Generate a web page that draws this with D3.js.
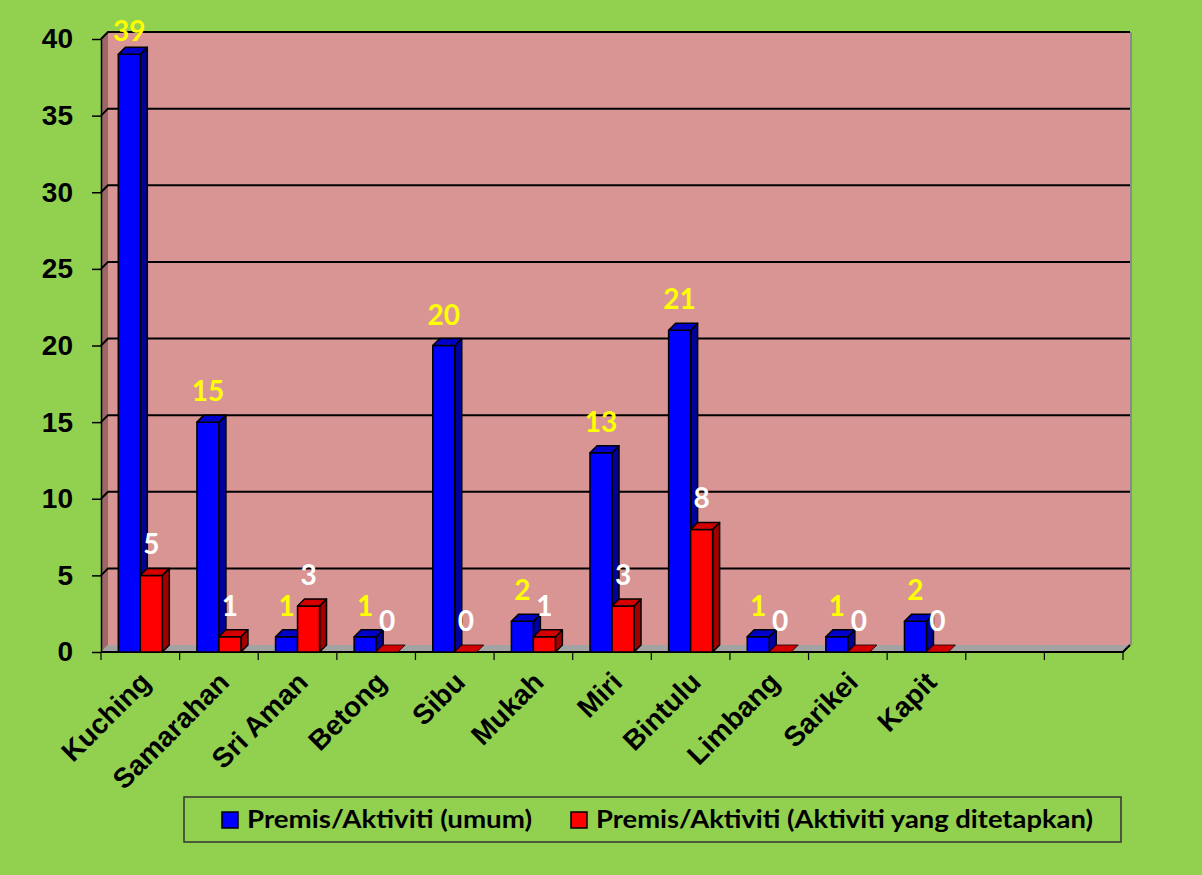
<!DOCTYPE html>
<html>
<head>
<meta charset="utf-8">
<script src="https://cdn.jsdelivr.net/npm/d3@7"></script>
<style>
  body { margin: 0; background: #92d050; }
  svg { display: block; }
</style>
</head>
<body>
<div id="chart"></div>
<script>
// Data
const categories = ["Kuching", "Samarahan", "Sri Aman", "Betong", "Sibu", "Mukah", "Miri", "Bintulu", "Limbang", "Sarikei", "Kapit", "", ""];
const umum = [39, 15, 1, 1, 20, 2, 13, 21, 1, 1, 2, null, null];
const ditetapkan = [5, 1, 3, 0, 0, 1, 3, 8, 0, 0, 0, null, null];
const seriesNames = ["Premis/Aktiviti (umum)", "Premis/Aktiviti (Aktiviti yang ditetapkan)"];
const yTicks = [0, 5, 10, 15, 20, 25, 30, 35, 40];

const width = 1202, height = 875;
const marginLeft = 101, marginRight = 79, marginTop = 39, marginBottom = 223;
const depth = 7; // 3d offset
const barW = 22;

const series = [
  {key: "umum", values: umum, front: "#0000ff", top: "#0000c8", side: "#00009a", label: "#ffff00"},
  {key: "dit", values: ditetapkan, front: "#ff0000", top: "#d40000", side: "#a00000", label: "#ffffff"}
];

const svg = d3.select("#chart").append("svg")
    .attr("width", width)
    .attr("height", height);

svg.append("rect").attr("width", width).attr("height", height).attr("fill", "#92d050");

const x0 = d3.scaleBand(d3.range(categories.length), [marginLeft, width - marginRight]).padding(0);
const x1 = d3.scaleBand(series.map(s => s.key), [0, barW * 2]).padding(0);
const y = d3.scaleLinear([0, 40], [height - marginBottom, marginTop]);

const x0L = marginLeft, x0R = width - marginRight, yB = y(0), yT = y(40);

// walls
svg.append("polygon") // back wall
    .attr("points", [[x0L + depth, yB - depth], [x0R + depth, yB - depth], [x0R + depth, yT - depth], [x0L + depth, yT - depth]].join(" "))
    .attr("fill", "#d99594");
svg.append("line")
    .attr("x1", x0R + depth + 1).attr("x2", x0R + depth + 1)
    .attr("y1", yT - depth).attr("y2", yB - depth)
    .attr("stroke", "#8a8a8a").attr("stroke-width", 2);
svg.append("polygon") // left wall
    .attr("points", [[x0L, yB], [x0L + depth, yB - depth], [x0L + depth, yT - depth], [x0L, yT]].join(" "))
    .attr("fill", "#9c6767");
svg.append("polygon") // floor
    .attr("points", [[x0L, yB], [x0R, yB], [x0R + depth, yB - depth], [x0L + depth, yB - depth]].join(" "))
    .attr("fill", "#a3a3a3");

// gridlines
const grid = svg.append("g").attr("stroke", "#000").attr("stroke-width", 2).attr("fill", "none");
yTicks.filter(t => t > 0).forEach(t => {
  grid.append("polyline")
      .attr("points", [[x0L, y(t)], [x0L + depth, y(t) - depth], [x0R + depth, y(t) - depth]].join(" "));
});

// axes
svg.append("g")
    .attr("transform", `translate(${x0L},0)`)
    .call(d3.axisLeft(y).tickValues(yTicks).tickSize(9).tickPadding(19).tickSizeOuter(0))
    .call(g => g.select(".domain").attr("stroke", "#000").attr("stroke-width", 1.5))
    .call(g => g.selectAll(".tick line").attr("stroke", "#000").attr("stroke-width", 1.5))
    .call(g => g.selectAll(".tick text")
        .attr("fill", "#000")
        .attr("font-family", "Liberation Sans, Arial, sans-serif")
        .attr("font-weight", "bold")
        .attr("font-size", 28));

const xAxisG = svg.append("g");
xAxisG.append("polyline")
    .attr("points", [[x0L, yB], [x0R, yB], [x0R + depth, yB - depth]].join(" "))
    .attr("fill", "none").attr("stroke", "#000").attr("stroke-width", 2);
xAxisG.selectAll(".tk")
  .data(d3.range(categories.length + 1))
  .join("line")
    .attr("x1", i => x0L + i * x0.bandwidth())
    .attr("x2", i => x0L + i * x0.bandwidth())
    .attr("y1", yB).attr("y2", yB + 8)
    .attr("stroke", "#000").attr("stroke-width", 1.2);

xAxisG.selectAll(".cat")
  .data(categories)
  .join("text")
    .attr("transform", (d, i) => `translate(${x0(i) + x0.bandwidth() / 2 + 12},${yB + 32}) rotate(-45)`)
    .attr("text-anchor", "end")
    .attr("font-family", "Liberation Sans, Arial, sans-serif")
    .attr("font-weight", "bold")
    .attr("font-size", 28)
    .attr("fill", "#000")
    .text(d => d);

// 3d bars
const barsG = svg.append("g");
const offset = (x0.bandwidth() - barW * 2) / 2;
series.forEach(s => {
  const data = d3.range(categories.length).filter(i => s.values[i] != null);
  const g = barsG.append("g");
  data.forEach(i => {
    const bx = x0(i) + offset + x1(s.key);
    const by = y(s.values[i]);
    const bg = g.append("g").attr("stroke", "#000").attr("stroke-width", 1.5).attr("stroke-linejoin", "round");
    if (s.values[i] > 0) {
      bg.append("polygon")
          .attr("points", [[bx + barW, yB], [bx + barW + depth, yB - depth], [bx + barW + depth, by - depth], [bx + barW, by]].join(" "))
          .attr("fill", s.side);
      bg.append("rect")
          .attr("x", bx).attr("y", by).attr("width", barW).attr("height", yB - by)
          .attr("fill", s.front);
    }
    bg.append("polygon")
        .attr("points", [[bx, by], [bx + depth, by - depth], [bx + barW + depth, by - depth], [bx + barW, by]].join(" "))
        .attr("fill", s.top)
        .attr("stroke-width", s.values[i] > 0 ? 1.5 : 0.8);
  });
});

// value labels
series.forEach(s => {
  barsG.append("g").selectAll("text")
    .data(d3.range(categories.length).filter(i => s.values[i] != null))
    .join("text")
      .attr("x", i => x0(i) + offset + x1(s.key) + barW / 2)
      .attr("y", i => Math.max(y(s.values[i]) - depth - 14, yT + 2))
      .attr("text-anchor", "middle")
      .attr("font-family", "Lato, sans-serif")
      .attr("font-weight", "bold")
      .attr("font-size", 28)
      .attr("fill", s.label)
      .text(i => s.values[i]);
});

// legend
const legend = svg.append("g");
legend.append("rect")
    .attr("x", 184).attr("y", 797).attr("width", 937).attr("height", 45)
    .attr("fill", "none").attr("stroke", "#333").attr("stroke-width", 1.5);
const legendItems = [
  {name: seriesNames[0], color: series[0].front, x: 222, tw: 285},
  {name: seriesNames[1], color: series[1].front, x: 571, tw: 497}
];
legendItems.forEach(it => {
  legend.append("rect")
      .attr("x", it.x).attr("y", 812).attr("width", 16).attr("height", 16)
      .attr("fill", it.color).attr("stroke", "#000").attr("stroke-width", 1.5);
  legend.append("text")
      .attr("x", it.x + 25).attr("y", 828)
      .attr("font-family", "Lato, sans-serif")
      .attr("font-weight", "bold")
      .attr("font-size", 25)
      .attr("textLength", it.tw)
      .attr("lengthAdjust", "spacingAndGlyphs")
      .attr("fill", "#000")
      .text(it.name);
});
</script>
</body>
</html>
